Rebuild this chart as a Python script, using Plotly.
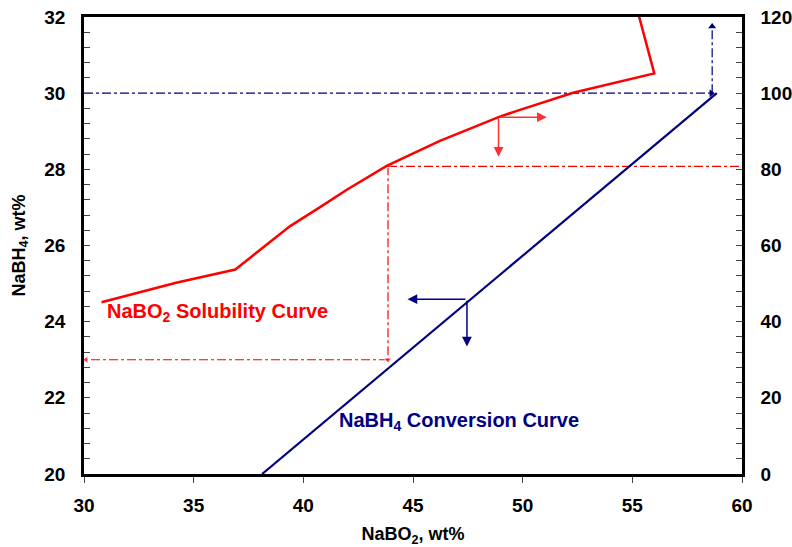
import plotly.graph_objects as go

# Data
sol_x = [30.8, 34.2, 36.9, 39.4, 40.8, 42.0, 43.8, 46.2, 48.9, 49.7, 52.3, 56.0, 55.3]
sol_y = [24.51, 25.02, 25.37, 26.51, 27.02, 27.47, 28.09, 28.74, 29.37, 29.53, 30.01, 30.52, 32.03]
conv_x = [38.12, 58.85]
conv_y = [0, 100]  # right axis (conversion %)

# Guide lines (dash-dot)
blue_h_x = [30, 58.6]; blue_h_y = [30, 30]
blue_v_x = [58.64, 58.64]; blue_v_y = [30, 31.75]
red_h_x = [43.86, 60]; red_h_y = [28.08, 28.08]
red_v_x = [43.86, 43.86]; red_v_y = [28.08, 23.0]
red_h2_x = [43.86, 30.1]; red_h2_y = [23.0, 23.0]

x_ticks = [30, 35, 40, 45, 50, 55, 60]
y_ticks = [20, 22, 24, 26, 28, 30, 32]
y2_ticks = [0, 20, 40, 60, 80, 100, 120]

RED = "#FF0000"
NAVY = "#000080"
FONT = "Liberation Sans, Arial, sans-serif"

fig = go.Figure()

def dd(x, y, color):
    fig.add_trace(go.Scatter(x=x, y=y, mode="lines",
                             line=dict(color=color, width=1.2, dash="dashdot"),
                             showlegend=False, hoverinfo="skip"))

dd(blue_h_x, blue_h_y, NAVY)
dd(blue_v_x, blue_v_y, NAVY)
dd(red_h_x, red_h_y, RED)
dd(red_v_x, red_v_y, RED)
dd(red_h2_x, red_h2_y, RED)

# arrowheads for dash-dot lines
fig.add_trace(go.Scatter(x=[blue_h_x[1], blue_v_x[1]], y=[blue_h_y[1], blue_v_y[1]],
                         mode="markers", marker=dict(symbol=["triangle-right", "triangle-up"], size=7, color=NAVY),
                         showlegend=False, hoverinfo="skip"))
fig.add_trace(go.Scatter(x=[red_v_x[1], red_h2_x[1], red_v_x[0]], y=[red_v_y[1], red_h2_y[1], red_v_y[0]],
                         mode="markers", marker=dict(symbol=["triangle-down", "triangle-left", "triangle-up"], size=[7, 7, 5], color=RED),
                         showlegend=False, hoverinfo="skip"))

fig.add_trace(go.Scatter(x=sol_x, y=sol_y, mode="lines", line=dict(color=RED, width=2.5),
                         showlegend=False))
fig.add_trace(go.Scatter(x=conv_x, y=conv_y, mode="lines", line=dict(color=NAVY, width=2.2),
                         yaxis="y2", showlegend=False))

# solid arrows
def arrow(x, y, ax, ay, color):
    fig.add_annotation(x=x, y=y, ax=ax, ay=ay, xref="x", yref="y", axref="x", ayref="y",
                       showarrow=True, arrowhead=2, arrowsize=1.3, arrowwidth=1.5,
                       arrowcolor=color, text="")

arrow(51.1, 29.37, 48.9, 29.37, "#FF3030")
arrow(48.9, 28.33, 48.9, 29.37, "#FF3030")
arrow(44.75, 24.59, 47.46, 24.59, NAVY)
arrow(47.46, 23.35, 47.46, 24.59, NAVY)

fig.add_annotation(x=30.96, y=24.23, xref="x", yref="y", xanchor="left", yanchor="middle",
                   text="<b>NaBO<sub>2</sub> Solubility Curve</b>", showarrow=False,
                   font=dict(family=FONT, size=20, color=RED))
fig.add_annotation(x=41.54, y=21.39, xref="x", yref="y", xanchor="left", yanchor="middle",
                   text="<b>NaBH<sub>4</sub> Conversion Curve</b>", showarrow=False,
                   font=dict(family=FONT, size=20, color=NAVY))

tickfont = dict(family=FONT, size=19, color="black")
titlefont = dict(family=FONT, size=18, color="black")

fig.update_layout(
    width=792, height=547,
    margin=dict(l=84, r=50, t=17, b=73),
    plot_bgcolor="white", paper_bgcolor="white",
    xaxis=dict(range=[30, 60], tickvals=x_ticks, ticktext=[f"<b>{v}</b>" for v in x_ticks],
               showgrid=False, zeroline=False, automargin=False,
               showline=True, linecolor="black", linewidth=2.5, mirror=True,
               ticks="outside", ticklen=6, tickwidth=1, tickcolor="#444",
               tickfont=tickfont, ticklabelstandoff=6,
               title=dict(text="<b>NaBO<sub>2</sub>, wt%</b>", font=titlefont, standoff=20)),
    yaxis=dict(range=[20, 32], tickvals=y_ticks, ticktext=[f"<b>{v}</b>" for v in y_ticks],
               showgrid=False, zeroline=False, automargin=False,
               showline=True, linecolor="black", linewidth=2.5,
               ticks="inside", ticklen=6, tickwidth=1, tickcolor="#444",
               minor=dict(dtick=0.4, ticks="inside", ticklen=6, tickcolor="#444", tickwidth=1, showgrid=False),
               tickfont=tickfont, ticklabelstandoff=12,
               title=dict(text="<b>NaBH<sub>4</sub>, wt%</b>", font=titlefont, standoff=15)),
    yaxis2=dict(range=[0, 120], tickvals=y2_ticks, ticktext=[f"<b>{v}</b>" for v in y2_ticks],
                overlaying="y", side="right", automargin=False,
                showgrid=False, zeroline=False,
                showline=True, linecolor="black", linewidth=2.5,
                ticks="inside", ticklen=6, tickwidth=1, tickcolor="#444",
                minor=dict(dtick=4, ticks="inside", ticklen=6, tickcolor="#444", tickwidth=1, showgrid=False),
                tickfont=tickfont, ticklabelstandoff=12),
)

fig.write_html("out.html")
